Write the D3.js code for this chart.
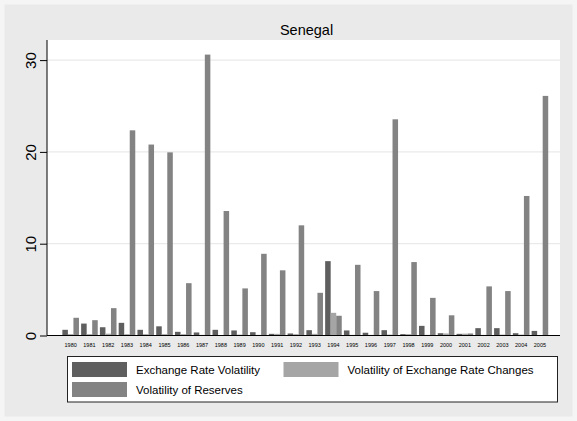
<!DOCTYPE html>
<html>
<head>
<meta charset="utf-8">
<script src="https://cdn.jsdelivr.net/npm/d3@7"></script>
<style>
  body { margin: 0; background: #ffffff; }
  svg { display: block; font-family: "Liberation Sans", Arial, sans-serif; }
</style>
</head>
<body>
<svg id="chart"></svg>
<script>
//data
const years = d3.range(1980, 2006).map(String);
const erVolatility = [0.62, 1.3, 0.9, 1.38, 0.62, 1.0, 0.4, 0.33, 0.62, 0.55, 0.36, 0.18, 0.22,
    0.58, 8.1, 0.55, 0.3, 0.58, 0.15, 1.05, 0.25, 0.18, 0.8, 0.8, 0.25, 0.5];
const erChangeVolatility = [0.15, 0.15, 0.2, 0.15, 0.15, 0.15, 0.15, 0.07, 0.05, 0.1, 0.07, 0.18, 0.15,
    0.18, 2.47, 0.07, 0.07, 0.1, 0.15, 0.07, 0.22, 0.2, 0.07, 0.1, 0.1, 0.05];
const reservesVolatility = [1.93, 1.67, 2.98, 22.35, 20.8, 19.95, 5.7, 30.6, 13.56, 5.13, 8.9, 7.1, 12.0,
    4.65, 2.15, 7.7, 4.84, 23.55, 8.0, 4.1, 2.2, 0.22, 5.35, 4.84, 15.2, 26.1];
const seriesNames = ["Exchange Rate Volatility", "Volatility of Exchange Rate Changes", "Volatility of Reserves"];
const yTicks = [0, 10, 20, 30];

//constants
const W = 577, H = 421;
const plot = {left: 47, right: 560, top: 40, bottom: 335.5};
const colors = ["#5f5f5f", "#a5a5a5", "#838383"];

const rows = years.map((y, i) => ({
    year: y,
    values: [erVolatility[i], erChangeVolatility[i], reservesVolatility[i]]
}));

function main() {
    let svg = d3.select("#chart")
        .attr("width", W)
        .attr("height", H);

    //backgrounds
    svg.append("rect")
        .attr("width", W).attr("height", H)
        .attr("fill", "#f5f5f5");
    svg.append("rect")
        .attr("x", 4.5).attr("y", 4.5)
        .attr("width", W - 9).attr("height", H - 9)
        .attr("fill", "#eaeaea");
    svg.append("rect")
        .attr("x", plot.left).attr("y", plot.top)
        .attr("width", plot.right - plot.left)
        .attr("height", plot.bottom - plot.top)
        .attr("fill", "#ffffff");

    //scales
    let xScale = d3.scaleBand()
        .domain(years)
        .range([plot.left, plot.right])
        .paddingInner(0.116)
        .paddingOuter(0.723)
        .align(0.566);

    let subScale = d3.scaleBand()
        .domain([0, 1, 2])
        .range([0, xScale.bandwidth()]);

    let yScale = d3.scaleLinear()
        .domain([0, 30])
        .range([plot.bottom, plot.bottom - 30 * 9.18]);

    //gridlines
    svg.append("g")
        .selectAll("line")
        .data(yTicks.filter(d => d > 0))
        .join("line")
        .attr("x1", plot.left).attr("x2", plot.right)
        .attr("y1", d => yScale(d)).attr("y2", d => yScale(d))
        .attr("stroke", "#eaeaea")
        .attr("stroke-width", 1.3);

    //bars
    svg.append("g")
        .selectAll("g")
        .data(rows)
        .join("g")
        .attr("transform", d => "translate(" + xScale(d.year) + ",0)")
        .selectAll("rect")
        .data(d => d.values.map((v, k) => ({k: k, v: v})))
        .join("rect")
        .attr("x", d => subScale(d.k))
        .attr("width", subScale.bandwidth())
        .attr("y", d => yScale(d.v))
        .attr("height", d => yScale(0) - yScale(d.v))
        .attr("fill", d => colors[d.k]);

    //y axis
    let yAxis = d3.axisLeft(yScale)
        .tickValues(yTicks)
        .tickSize(7)
        .tickSizeOuter(0);

    let yG = svg.append("g")
        .attr("transform", "translate(" + plot.left + ",0)")
        .call(yAxis);
    yG.select(".domain").attr("d", "M0," + plot.top + "V" + plot.bottom).attr("stroke", "#000");
    yG.selectAll(".tick line").attr("stroke", "#000");
    yG.selectAll(".tick text")
        .attr("x", null).attr("dy", null)
        .attr("transform", "translate(-11,0) rotate(-90)")
        .attr("text-anchor", "middle")
        .attr("dominant-baseline", "auto")
        .attr("fill", "#000")
        .style("font-size", "15px");

    //x axis
    let xAxis = d3.axisBottom(xScale)
        .tickSize(0)
        .tickSizeOuter(0);

    let xG = svg.append("g")
        .attr("transform", "translate(0," + plot.bottom + ")")
        .call(xAxis);
    xG.select(".domain").attr("d", "M" + plot.left + ",0H" + plot.right).attr("stroke", "#000");
    xG.selectAll(".tick text")
        .attr("y", 11)
        .attr("dy", null)
        .attr("fill", "#000")
        .style("font-size", "5.5px");

    //title
    svg.append("text")
        .attr("x", 306.5)
        .attr("y", 35)
        .attr("text-anchor", "middle")
        .style("font-size", "14.5px")
        .text("Senegal");

    //legend
    let legend = svg.append("g");
    legend.append("rect")
        .attr("x", 67.5).attr("y", 356.5)
        .attr("width", 490).attr("height", 45.5)
        .attr("fill", "#ffffff")
        .attr("stroke", "#222")
        .attr("stroke-width", 1);

    let legendPos = [[72, 362], [283.5, 362], [72, 382]];
    seriesNames.forEach((name, k) => {
        let p = legendPos[k];
        legend.append("rect")
            .attr("x", p[0]).attr("y", p[1])
            .attr("width", 55).attr("height", 15)
            .attr("fill", colors[k]);
        legend.append("text")
            .attr("x", p[0] + 64)
            .attr("y", p[1] + 12)
            .style("font-size", "11.5px")
            .text(name);
    });
}

main();
</script>
</body>
</html>
